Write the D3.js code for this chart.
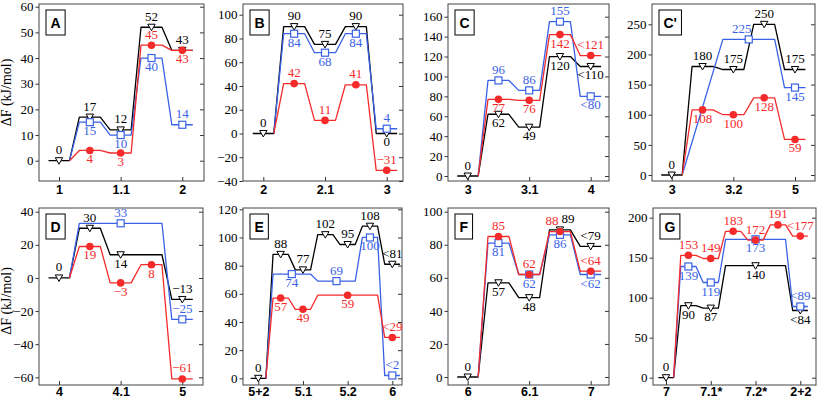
<!DOCTYPE html>
<html><head><meta charset="utf-8">
<script src="https://cdn.jsdelivr.net/npm/d3@7"></script>
<style>body{margin:0;background:#fff}</style>
</head><body><svg id="c" width="817" height="400"></svg>
<script>
// ================= DATA =================
const panelNames = ["A","B","C","C'","D","E","F","G"];

// x tick labels (one label for every second state)
const ticksA = ["1","1.1","2"];
const ticksB = ["2","2.1","3"];
const ticksC = ["3","3.1","4"];
const ticksC2 = ["3","3.2","5"];
const ticksD = ["4","4.1","5"];
const ticksE = ["5+2","5.1","5.2","6"];
const ticksF = ["6","6.1","7"];
const ticksG = ["7","7.1*","7.2*","2+2"];

// y tick values
const yTicksA = [0,10,20,30,40,50,60];
const yTicksB = [-40,-20,0,20,40,60,80,100];
const yTicksC = [0,20,40,60,80,100,120,140,160];
const yTicksC2 = [0,50,100,150,200,250];
const yTicksD = [-60,-40,-20,0,20,40];
const yTicksE = [0,20,40,60,80,100,120];
const yTicksF = [0,20,40,60,80,100];
const yTicksG = [0,50,100,150,200];

// free energy of each state (kJ/mol), null = state not visited
const blackA = [0,17,12,52,43];
const blueA  = [0,15,10,40,14];
const redA   = [0,4,3,45,43];
const blackB = [0,90,75,90,0];
const blueB  = [0,84,68,84,4];
const redB   = [0,42,11,41,-31];
const blackC = [0,62,49,120,110];
const blueC  = [0,96,86,155,80];
const redC   = [0,77,76,142,121];
const blackC2 = [0,180,175,250,175];
const blueC2  = [0,null,225,225,145];
const redC2   = [0,108,100,128,59];
const blackD = [0,30,14,14,-13];
const blueD  = [0,33,33,33,-25];
const redD   = [0,19,-3,8,-61];
const blackE = [0,88,77,102,95,108,81];
const blueE  = [0,74,74,69,69,100,2];
const redE   = [0,57,49,59,59,59,29];
const blackF = [0,57,48,89,79];
const blueF  = [0,81,62,86,62];
const redF   = [0,85,62,88,64];
const blackG = [0,90,87,140,140,140,84];
const blueG  = [0,139,119,173,173,173,89];
const redG   = [0,153,149,183,172,191,177];

// markers: [state, label, side ("a" above / "b" below)]
const mkBlackA = [[0,"0","a"],[1,"17","a"],[2,"12","a"],[3,"52","a"],[4,"43","a"]];
const mkBlueA  = [[1,"15","b"],[2,"10","b"],[3,"40","b"],[4,"14","a"]];
const mkRedA   = [[1,"4","b"],[2,"3","b"],[3,"45","a"],[4,"43","b"]];
const mkBlackB = [[0,"0","a"],[1,"90","a"],[2,"75","a"],[3,"90","a"],[4,"0","b"]];
const mkBlueB  = [[1,"84","b"],[2,"68","b"],[3,"84","b"],[4,"4","a"]];
const mkRedB   = [[1,"42","a"],[2,"11","a"],[3,"41","a"],[4,"−31","a"]];
const mkBlackC = [[0,"0","a"],[1,"62","b"],[2,"49","b"],[3,"120","b"],[4,"<110","b"]];
const mkBlueC  = [[1,"96","a"],[2,"86","a"],[3,"155","a"],[4,"<80","b"]];
const mkRedC   = [[1,"77","b"],[2,"76","b"],[3,"142","b"],[4,"<121","a"]];
const mkBlackC2 = [[0,"0","a"],[1,"180","a"],[2,"175","a"],[3,"250","a"],[4,"175","a"]];
const mkBlueC2  = [[2.5,"225","a"],[4,"145","b"]];
const mkRedC2   = [[1,"108","b"],[2,"100","b"],[3,"128","b"],[4,"59","b"]];
const mkBlackD = [[0,"0","a"],[1,"30","a"],[2,"14","b"],[4,"−13","a"]];
const mkBlueD  = [[2,"33","a"],[4,"−25","a"]];
const mkRedD   = [[1,"19","b"],[2,"−3","b"],[3,"8","b"],[4,"−61","a"]];
const mkBlackE = [[0,"0","a"],[1,"88","a"],[2,"77","a"],[3,"102","a"],[4,"95","a"],[5,"108","a"],[6,"<81","a"]];
const mkBlueE  = [[1.5,"74","b"],[3.5,"69","a"],[5,"100","b"],[6,"<2","a"]];
const mkRedE   = [[1,"57","b"],[2,"49","b"],[4,"59","b"],[6,"<29","a"]];
const mkBlackF = [[0,"0","a"],[1,"57","b"],[2,"48","b"],[3,"89","a"],[4,"<79","a"]];
const mkBlueF  = [[1,"81","b"],[2,"62","b"],[3,"86","b"],[4,"<62","b"]];
const mkRedF   = [[1,"85","a"],[2,"62","a"],[3,"88","a"],[4,"<64","a"]];
const mkBlackG = [[0,"0","a"],[1,"90","b"],[2,"87","b"],[4,"140","b"],[6,"<84","b"]];
const mkBlueG  = [[1,"139","b"],[2,"119","b"],[4,"173","b"],[6,"<89","a"]];
const mkRedG   = [[1,"153","a"],[2,"149","a"],[3,"183","a"],[4,"172","a"],[5,"191","a"],[6,"<177","a"]];

// ================= LAYOUT / STYLE =================
const panels = [
  {name:"A", ticks:ticksA, yTicks:yTicksA, black:blackA, blue:blueA, red:redA, mk:[mkBlackA,mkBlueA,mkRedA]},
  {name:"B", ticks:ticksB, yTicks:yTicksB, black:blackB, blue:blueB, red:redB, mk:[mkBlackB,mkBlueB,mkRedB]},
  {name:"C", ticks:ticksC, yTicks:yTicksC, black:blackC, blue:blueC, red:redC, mk:[mkBlackC,mkBlueC,mkRedC]},
  {name:"C'", ticks:ticksC2, yTicks:yTicksC2, black:blackC2, blue:blueC2, red:redC2, mk:[mkBlackC2,mkBlueC2,mkRedC2]},
  {name:"D", ticks:ticksD, yTicks:yTicksD, black:blackD, blue:blueD, red:redD, mk:[mkBlackD,mkBlueD,mkRedD]},
  {name:"E", ticks:ticksE, yTicks:yTicksE, black:blackE, blue:blueE, red:redE, mk:[mkBlackE,mkBlueE,mkRedE]},
  {name:"F", ticks:ticksF, yTicks:yTicksF, black:blackF, blue:blueF, red:redF, mk:[mkBlackF,mkBlueF,mkRedF]},
  {name:"G", ticks:ticksG, yTicks:yTicksG, black:blackG, blue:blueG, red:redG, mk:[mkBlackG,mkBlueG,mkRedG]}
];
const layout = {
  "A":  {box:[39,4,204,181],  x:[59,182.3],   y:[[0,160.7],[60,6.7]],   lab:194},
  "B":  {box:[243,4,403,181], x:[263.3,386.7],y:[[-40,181],[100,14.7]], lab:194},
  "C":  {box:[448,4,609,181], x:[467.7,590.7],y:[[0,176],[160,16.7]],   lab:194},
  "C'": {box:[652,4,815,181], x:[671.7,795],  y:[[0,175],[250,24.3]],   lab:194},
  "D":  {box:[39,208,203,385],x:[59,182.3],   y:[[-60,377.3],[40,211.7]],lab:396},
  "E":  {box:[243,208,402,385],x:[258.3,392.3],y:[[0,378.3],[120,209.3]],lab:396},
  "F":  {box:[448,208,609,385],x:[467.7,590.7],y:[[0,377],[100,211.7]],  lab:396},
  "G":  {box:[653,208,816,385],x:[666,800.3], y:[[0,377.7],[200,217.7]], lab:396}
};
const labelDx = {"C'|1|0":-7, "F|2|2":-8, "F|0|3":8};
const colors = ["#000000","#3a62e6","#f52a2a"];
const serif = "'Liberation Serif','DejaVu Serif',serif";
const sans = "'Liberation Sans',Arial,sans-serif";
const W = 0.34; // plateau half-width (state units)

const svg = d3.select("#c");

function fmt(d){ return d < 0 ? "−" + (-d) : String(d); }

panels.forEach(p => {
  const L = layout[p.name];
  const [bx0,by0,bx1,by1] = L.box;
  const n = p.black.length;
  const x = d3.scaleLinear().domain([0,n-1]).range(L.x);
  const y = d3.scaleLinear().domain([L.y[0][0],L.y[1][0]]).range([L.y[0][1],L.y[1][1]]);
  const g = svg.append("g");

  // axes
  const ya = g.append("g").attr("transform",`translate(${bx0},0)`)
    .call(d3.axisLeft(y).tickValues(p.yTicks).tickSizeInner(3.5).tickSizeOuter(0).tickPadding(2).tickFormat(fmt));
  ya.select(".domain").remove();
  ya.selectAll("text").attr("font-family",serif).attr("font-size",13).attr("fill","#000");
  ya.selectAll("line").attr("stroke","#333");
  const yr = g.append("g").attr("transform",`translate(${bx1},0)`)
    .call(d3.axisLeft(y).tickValues(p.yTicks).tickSizeInner(-4).tickSizeOuter(0).tickFormat(""));
  yr.select(".domain").remove();
  yr.selectAll("line").attr("stroke","#333").attr("x2",-4);
  const tickStates = p.ticks.map((t,i)=>i*2);
  const xa = g.append("g").attr("transform",`translate(0,${by1})`)
    .call(d3.axisBottom(x).tickValues(tickStates).tickSizeInner(-4).tickSizeOuter(0).tickFormat((d,i)=>p.ticks[i]));
  xa.select(".domain").remove();
  xa.selectAll("line").attr("stroke","#333");
  xa.selectAll("text").attr("y", L.lab - by1).attr("dy",0)
    .attr("font-family",sans).attr("font-weight","bold").attr("font-size",12.5).attr("fill","#000");

  // frame
  g.append("rect").attr("x",bx0).attr("y",by0).attr("width",bx1-bx0).attr("height",by1-by0)
    .attr("fill","none").attr("stroke","#444").attr("stroke-width",1);

  // lines
  const series = [p.black,p.blue,p.red];
  const line = d3.line().x(d=>x(d[0])).y(d=>y(d[1]));
  series.forEach((vals,si) => {
    const pts = [];
    let first = true;
    vals.forEach((v,i) => {
      if (v === null) return;
      if (first && si > 0) { pts.push([i+W,v]); }
      else { pts.push([i-W,v]); pts.push([i+W,v]); }
      first = false;
    });
    g.append("path").attr("d",line(pts)).attr("fill","none")
      .attr("stroke",colors[si]).attr("stroke-width",1.3).attr("stroke-linejoin","round");
  });

  // markers + labels
  p.mk.forEach((list,si) => {
    const vals = series[si];
    list.forEach(([s,lab,side],k) => {
      const v = vals[Math.floor(s)];
      const cx = x(s), cy = y(v);
      if (si === 0) {
        g.append("path").attr("d",`M${cx-3.7},${cy-3} L${cx+3.7},${cy-3} L${cx},${cy+3.5} Z`)
          .attr("fill","#fff").attr("stroke","#000").attr("stroke-width",1);
      } else if (si === 1) {
        g.append("rect").attr("x",cx-3.5).attr("y",cy-3.5).attr("width",7).attr("height",7)
          .attr("fill","#fff").attr("stroke",colors[1]).attr("stroke-width",1.2);
      } else {
        g.append("circle").attr("cx",cx).attr("cy",cy).attr("r",3.8).attr("fill",colors[2]);
      }
      const dx = labelDx[p.name+"|"+si+"|"+k] || 0;
      g.append("text").attr("x",cx+dx).attr("y", side==="a" ? cy-6.5 : cy+13)
        .attr("text-anchor","middle").attr("font-family",serif).attr("font-size",13)
        .attr("fill",colors[si]).text(lab);
    });
  });

  // panel letter box
  const box = g.append("rect").attr("y",by0+6).attr("height",25)
    .attr("fill","#fff").attr("stroke","#000").attr("stroke-width",1);
  const t = g.append("text").attr("font-family",sans).attr("font-weight","bold").attr("font-size",14)
    .attr("text-anchor","middle").text(p.name);
  const tw = t.node().getComputedTextLength();
  const bw = Math.max(17.5, tw+9);
  box.attr("x",bx0+7).attr("width",bw);
  t.attr("x",bx0+7+bw/2).attr("y",by0+6+18);
});

// y-axis titles
[92.5,301].forEach(cy => {
  svg.append("text").attr("transform",`translate(11,${cy}) rotate(-90)`)
    .attr("text-anchor","middle").attr("font-family",serif).attr("font-size",14).attr("fill","#000")
    .text("ΔF (kJ/mol)");
});
</script>
</body></html>
